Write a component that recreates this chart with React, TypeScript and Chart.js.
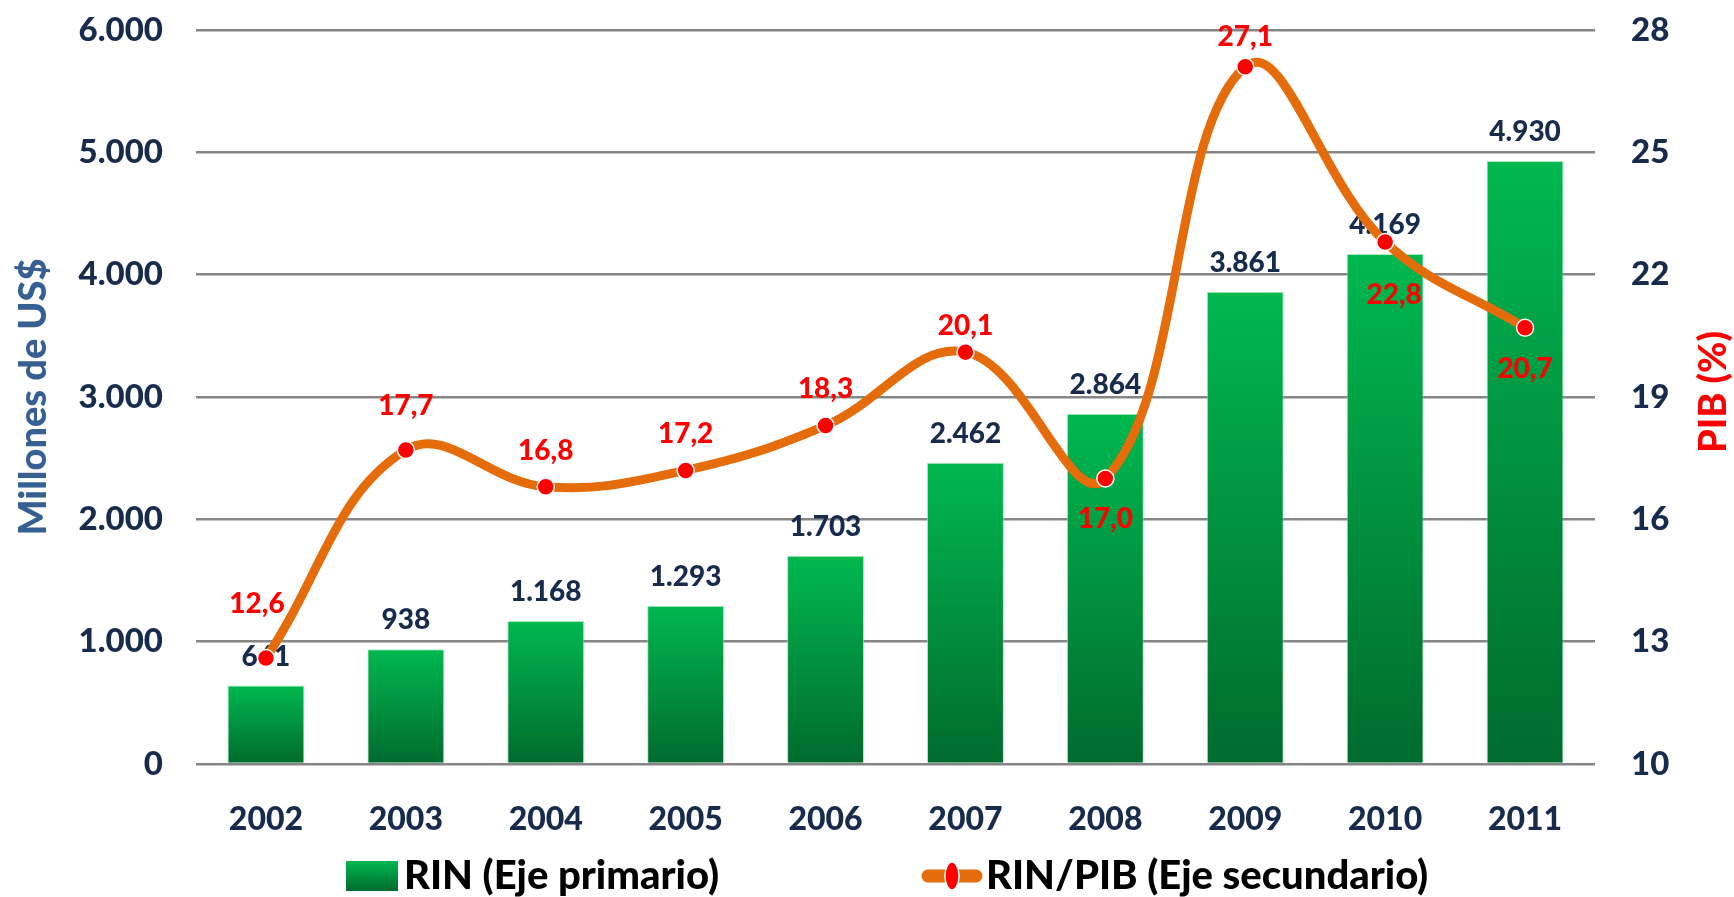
import React, { useEffect, useRef } from "react";
import { Chart, registerables } from "chart.js";

Chart.register(...registerables);

const years = ["2002", "2003", "2004", "2005", "2006", "2007", "2008", "2009", "2010", "2011"];
const rinValues = [641, 938, 1168, 1293, 1703, 2462, 2864, 3861, 4169, 4930];
const rinPibValues = [12.6, 17.7, 16.8, 17.2, 18.3, 20.1, 17.0, 27.1, 22.8, 20.7];
const leftTicks = [0, 1000, 2000, 3000, 4000, 5000, 6000];
const rightTicks = [10, 13, 16, 19, 22, 25, 28];
// vertical offset of each red label from its point (negative = above)
const lineLabelOffsets = [-54, -44, -36, -36, -37, -26, 40, -30, 53, 41];
const lineLabelShiftX = [-9, 0, 0, 0, 0, 0, 0, 0, 9, 0];

const FONT = "Lato, 'Open Sans', sans-serif";
const NAVY = "#172B4D";
const ORANGE = "#E46C0A";
const RED = "#FF0000";

const fmtThousands = (n: number) => String(n).replace(/\B(?=(\d{3})+(?!\d))/g, ".");
const fmtDecimal = (n: number) => n.toFixed(1).replace(".", ",");

function greenGradient(ctx: CanvasRenderingContext2D, yTop: number, yBot: number) {
  const g = ctx.createLinearGradient(0, yTop, 0, yBot);
  g.addColorStop(0, "#00B850");
  g.addColorStop(1, "#006B2D");
  return g;
}

const labelsPlugin = {
  id: "customLabels",
  afterDatasetDraw(chart: any, args: any) {
    if (args.index !== 0) return;
    const ctx = chart.ctx;
    const meta = chart.getDatasetMeta(0);
    ctx.save();
    ctx.font = `900 28px ${FONT}`;
    ctx.fillStyle = NAVY;
    ctx.textAlign = "center";
    ctx.textBaseline = "middle";
    meta.data.forEach((el: any, i: number) => {
      ctx.fillText(fmtThousands(rinValues[i]), el.x, el.y - 29);
    });
    ctx.restore();
  },
  afterDatasetsDraw(chart: any) {
    const ctx = chart.ctx;
    const meta = chart.getDatasetMeta(1);
    ctx.save();
    ctx.font = `900 28px ${FONT}`;
    ctx.fillStyle = RED;
    ctx.textAlign = "center";
    ctx.textBaseline = "middle";
    meta.data.forEach((el: any, i: number) => {
      ctx.fillText(fmtDecimal(rinPibValues[i]), el.x + lineLabelShiftX[i], el.y + lineLabelOffsets[i]);
    });
    ctx.restore();
  },
  afterDraw(chart: any) {
    const ctx = chart.ctx;
    ctx.save();
    // axis titles
    ctx.font = `900 38px ${FONT}`;
    ctx.textAlign = "center";
    ctx.textBaseline = "middle";
    ctx.fillStyle = "#376092";
    ctx.save();
    ctx.translate(34, 397);
    ctx.rotate(-Math.PI / 2);
    ctx.fillText("Millones de US$", 0, 0);
    ctx.restore();
    ctx.fillStyle = RED;
    ctx.save();
    ctx.translate(1714, 392);
    ctx.rotate(-Math.PI / 2);
    ctx.fillText("PIB (%)", 0, 0);
    ctx.restore();

    // legend
    const ly = 876;
    ctx.fillStyle = greenGradient(ctx, 861, 891);
    ctx.fillRect(346, 861, 52, 30);
    ctx.font = `900 40px ${FONT}`;
    ctx.fillStyle = "#000000";
    ctx.textAlign = "left";
    ctx.fillText("RIN (Eje primario)", 404, ly);

    ctx.strokeStyle = ORANGE;
    ctx.lineWidth = 13;
    ctx.lineCap = "round";
    ctx.beginPath();
    ctx.moveTo(928, ly);
    ctx.lineTo(976, ly);
    ctx.stroke();
    ctx.fillStyle = RED;
    ctx.strokeStyle = "#FFFFFF";
    ctx.lineWidth = 1.5;
    ctx.beginPath();
    ctx.ellipse(952, ly, 7, 14, 0, 0, Math.PI * 2);
    ctx.fill();
    ctx.stroke();
    ctx.fillStyle = "#000000";
    ctx.fillText("RIN/PIB (Eje secundario)", 986, ly);
    ctx.restore();
  },
};

export default function App() {
  const canvasRef = useRef<HTMLCanvasElement | null>(null);

  useEffect(() => {
    const canvas = canvasRef.current;
    if (!canvas) return;
    const chart = new Chart(canvas, {
      type: "bar",
      data: {
        labels: years,
        datasets: [
          {
            type: "bar",
            label: "RIN (Eje primario)",
            data: rinValues,
            yAxisID: "y",
            order: 2,
            barPercentage: 0.55,
            categoryPercentage: 1,
            borderWidth: 1,
            borderColor: "rgba(140,225,165,0.7)",
            backgroundColor: (c: any) => {
              const ch = c.chart;
              if (!ch.chartArea || c.type !== "data") return "#00A048";
              const yTop = ch.scales.y.getPixelForValue(c.raw);
              const yBot = ch.scales.y.getPixelForValue(0);
              return greenGradient(ch.ctx, yTop, yBot);
            },
          } as any,
          {
            type: "line",
            label: "RIN/PIB (Eje secundario)",
            data: rinPibValues,
            yAxisID: "y1",
            order: 1,
            borderColor: ORANGE,
            borderWidth: 9,
            borderCapStyle: "round",
            borderJoinStyle: "round",
            tension: 0.4,
            pointRadius: 8.5,
            pointBackgroundColor: RED,
            pointBorderColor: "#FFFFFF",
            pointBorderWidth: 1.5,
            fill: false,
          } as any,
        ],
      },
      options: {
        responsive: false,
        animation: false,
        devicePixelRatio: 1,
        layout: { padding: { top: 30, left: 0, right: 0, bottom: 0 } },
        plugins: {
          legend: { display: false },
          tooltip: { enabled: false },
        },
        scales: {
          x: {
            grid: { display: false, drawTicks: false },
            border: { display: false },
            ticks: {
              color: NAVY,
              font: { family: FONT, size: 32, weight: "900" },
              padding: 36,
            },
            afterFit: (s: any) => {
              s.height = 133;
              s.paddingLeft = 0;
              s.paddingRight = 0;
            },
          },
          y: {
            position: "left",
            min: leftTicks[0],
            max: leftTicks[leftTicks.length - 1],
            afterBuildTicks: (s: any) => {
              s.ticks = leftTicks.map((v) => ({ value: v }));
            },
            grid: { color: "#868686", lineWidth: 2.5, drawTicks: false },
            border: { display: false },
            ticks: {
              color: NAVY,
              font: { family: FONT, size: 33, weight: "900" },
              padding: 33,
              callback: (v: any) => fmtThousands(Number(v)),
            },
            afterFit: (s: any) => {
              s.width = 196;
              s.paddingTop = 0;
              s.paddingBottom = 0;
            },
          },
          y1: {
            position: "right",
            min: rightTicks[0],
            max: rightTicks[rightTicks.length - 1],
            afterBuildTicks: (s: any) => {
              s.ticks = rightTicks.map((v) => ({ value: v }));
            },
            grid: { display: false, drawTicks: false },
            border: { display: false },
            ticks: {
              color: NAVY,
              font: { family: FONT, size: 33, weight: "900" },
              padding: 36,
              callback: (v: any) => String(v),
            },
            afterFit: (s: any) => {
              s.width = 139;
              s.paddingTop = 0;
              s.paddingBottom = 0;
            },
          },
        },
      },
      plugins: [labelsPlugin],
    });
    return () => chart.destroy();
  }, []);

  return (
    <div style={{ position: "fixed", left: 0, top: 0, width: 1734, height: 897, background: "#FFFFFF" }}>
      <canvas ref={canvasRef} width={1734} height={897} style={{ display: "block" }} />
    </div>
  );
}
